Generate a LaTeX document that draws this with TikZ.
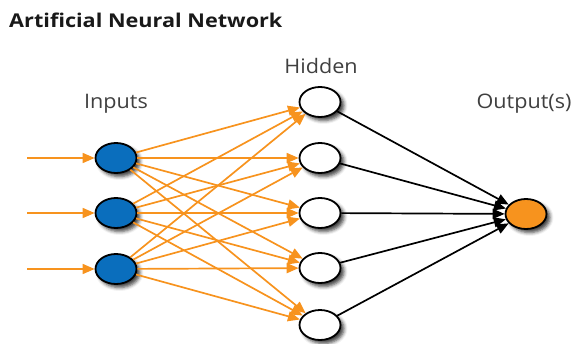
\documentclass[tikz,border=0pt]{standalone}
\usepackage{fontspec}
\setmainfont{Open Sans}
\usetikzlibrary{arrows.meta,shadows.blur,shapes.geometric}
\definecolor{linkorange}{HTML}{F7931E}
\definecolor{inblue}{HTML}{0A6EBD}
\definecolor{labelgray}{HTML}{404040}
\begin{document}
\begin{tikzpicture}[x=1pt,y=-1pt,
  neuron/.style={ellipse,draw=black,line width=1.8pt,minimum width=41pt,minimum height=30pt,inner sep=0pt,
    blur shadow={shadow xshift=3.5pt,shadow yshift=-3.5pt,shadow blur radius=3.5pt,shadow opacity=75}},
  innode/.style={neuron,fill=inblue},
  hidnode/.style={neuron,fill=white},
  outnode/.style={neuron,fill=linkorange},
  olink/.style={draw=linkorange,line width=1.7pt,-{Triangle[length=12pt,width=10pt]}},
  blink/.style={draw=black,line width=1.7pt,-{Triangle[length=12pt,width=10pt]}},
  label/.style={anchor=base,inner sep=0pt,xscale=1.08,font=\fontsize{20}{22}\selectfont,text=labelgray}]
\useasboundingbox (0,0) rectangle (578,343);
\node[anchor=base west,inner sep=0pt,xscale=1.14,font=\bfseries\fontsize{19}{21}\selectfont,text=black!90] (title) at (9,27) {Artificial Neural Network};
\node[label] (linputs) at (116,108) {Inputs};
\node[label] (lhidden) at (321,73) {Hidden};
\node[label] (loutputs) at (524,108) {Output(s)};
\foreach \i/\y in {1/158,2/213,3/269}{
  \coordinate (s\i) at (27,\y);
  \node[innode] (i\i) at (116,\y) {};
}
\foreach \j/\y in {1/102,2/158,3/213,4/268,5/325}{
  \node[hidnode] (h\j) at (320,\y) {};
}
\node[outnode] (o) at (526,214) {};
\foreach \i in {1,2,3}{
  \draw[olink] (s\i) -- (i\i);
  \foreach \j in {1,...,5}{
    \draw[olink] (i\i) -- (h\j);
  }
}
\foreach \j in {1,...,5}{
  \draw[blink] (h\j) -- (o);
}
\end{tikzpicture}
\end{document}
